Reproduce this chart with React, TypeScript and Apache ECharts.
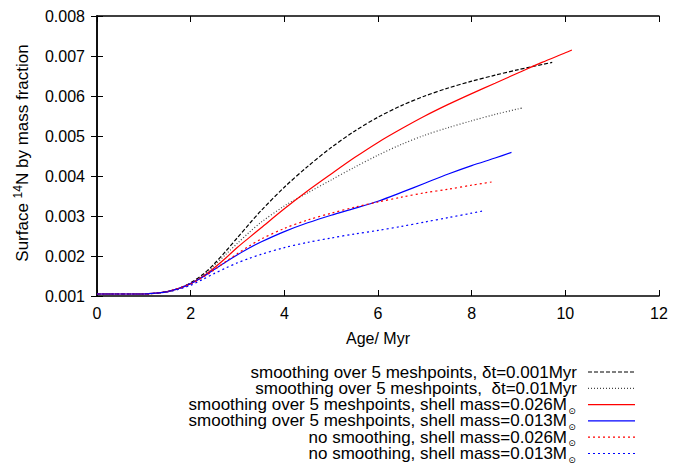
import React, { useEffect, useRef } from "react";
import * as echarts from "echarts";

// Age (Myr) and surface 14N mass fraction for each model
const agesDtFine = [0, 1, 1.25, 1.5, 1.75, 2, 2.25, 2.5, 2.75, 3, 3.25, 3.5, 4, 4.5, 5, 5.5, 6, 6.5, 7, 7.5, 8, 8.5, 9, 9.72];
const valsDtFine = [0.00105, 0.00105, 0.00107, 0.00111, 0.00119, 0.00133, 0.00153, 0.0018, 0.00212, 0.00246, 0.0028, 0.00313, 0.00372, 0.00424, 0.00471, 0.00512, 0.00547, 0.00576, 0.006, 0.0062, 0.00637, 0.00652, 0.00666, 0.00684];

const agesDtCoarse = [0, 1, 1.25, 1.5, 1.75, 2, 2.25, 2.5, 2.75, 3, 3.25, 3.5, 4, 4.5, 5, 5.5, 6, 6.5, 7, 7.5, 8, 8.5, 9, 9.08];
const valsDtCoarse = [0.00105, 0.00105, 0.00107, 0.00111, 0.00119, 0.00132, 0.0015, 0.00176, 0.00204, 0.00232, 0.00259, 0.00284, 0.00325, 0.00358, 0.0039, 0.00422, 0.00452, 0.00479, 0.00502, 0.00521, 0.00538, 0.00554, 0.00568, 0.0057];

const agesSmooth026 = [0, 1, 1.25, 1.5, 1.75, 2, 2.25, 2.5, 2.75, 3, 3.25, 3.5, 4, 4.5, 5, 5.5, 6, 6.5, 7, 7.5, 8, 8.5, 9, 9.5, 10, 10.14];
const valsSmooth026 = [0.00105, 0.00105, 0.00107, 0.00111, 0.00119, 0.00131, 0.00148, 0.0017, 0.00195, 0.00222, 0.00246, 0.0027, 0.00318, 0.00363, 0.00405, 0.00446, 0.00484, 0.00518, 0.0055, 0.00579, 0.00606, 0.00632, 0.00658, 0.00684, 0.00708, 0.00715];

const agesSmooth013 = [0, 1, 1.25, 1.5, 1.75, 2, 2.25, 2.5, 2.75, 3, 3.25, 3.5, 4, 4.5, 5, 5.5, 6, 6.5, 7, 7.5, 8, 8.5, 8.85];
const valsSmooth013 = [0.00105, 0.00105, 0.00107, 0.00111, 0.00119, 0.00131, 0.00147, 0.00166, 0.00185, 0.00203, 0.0022, 0.00235, 0.00261, 0.00283, 0.00302, 0.00319, 0.00337, 0.00359, 0.00382, 0.00405, 0.00426, 0.00445, 0.00459];

const agesNoSmooth026 = [0, 1, 1.25, 1.5, 1.75, 2, 2.25, 2.5, 2.75, 3, 3.25, 3.5, 4, 4.5, 5, 5.5, 6, 6.5, 7, 7.5, 8, 8.48];
const valsNoSmooth026 = [0.00105, 0.00105, 0.00107, 0.00111, 0.00119, 0.0013, 0.00146, 0.00165, 0.00186, 0.00206, 0.00225, 0.00242, 0.00269, 0.0029, 0.00307, 0.00322, 0.00335, 0.00347, 0.00358, 0.00367, 0.00377, 0.00386];

const agesNoSmooth013 = [0, 1, 1.25, 1.5, 1.75, 2, 2.25, 2.5, 2.75, 3, 3.25, 3.5, 4, 4.5, 5, 5.5, 6, 6.5, 7, 7.5, 8, 8.25];
const valsNoSmooth013 = [0.00105, 0.00105, 0.00107, 0.0011, 0.00117, 0.00127, 0.00141, 0.00156, 0.0017, 0.00183, 0.00194, 0.00204, 0.00221, 0.00234, 0.00245, 0.00255, 0.00264, 0.00274, 0.00285, 0.00296, 0.00307, 0.00313];

const legendLabels = [
  "smoothing over 5 meshpoints, \u03b4t=0.001Myr",
  "smoothing over 5 meshpoints,  \u03b4t=0.01Myr",
  "smoothing over 5 meshpoints, shell mass=0.026M",
  "smoothing over 5 meshpoints, shell mass=0.013M",
  "no smoothing, shell mass=0.026M",
  "no smoothing, shell mass=0.013M",
];
const legendSun = [false, false, true, true, true, true];

const FONT = "Liberation Sans, Arial, Helvetica, sans-serif";

const seriesDefs = [
  { ages: agesDtFine, vals: valsDtFine, color: "#000000", type: [4, 2] as any },
  { ages: agesDtCoarse, vals: valsDtCoarse, color: "#444444", type: [1, 2] as any },
  { ages: agesSmooth026, vals: valsSmooth026, color: "#ff0000", type: "solid" as any },
  { ages: agesSmooth013, vals: valsSmooth013, color: "#0000ff", type: "solid" as any },
  { ages: agesNoSmooth026, vals: valsNoSmooth026, color: "#ff0000", type: [2, 3] as any },
  { ages: agesNoSmooth013, vals: valsNoSmooth013, color: "#0000ff", type: [2, 3] as any },
];

export default function App() {
  const ref = useRef<HTMLDivElement>(null);
  useEffect(() => {
    if (!ref.current) return;
    const chart = echarts.init(ref.current, null, { renderer: "svg" });
    const axisLine = { show: true, lineStyle: { color: "#000", width: 1.5 } };
    const tick = { show: true, inside: true, length: 6, lineStyle: { color: "#000", width: 1 } };
    const legendGraphics: any[] = [];
    const rowY0 = 372;
    const rowH = 16.3;
    legendLabels.forEach((lab, i) => {
      const y = rowY0 + i * rowH;
      const sun = legendSun[i];
      legendGraphics.push({
        type: "text",
        x: sun ? 567 : 577,
        y,
        style: {
          text: lab,
          align: "right",
          verticalAlign: "middle",
          font: `17px ${FONT}`,
          lineHeight: 15,
          fill: "#000",
        },
      });
      if (sun) {
        legendGraphics.push({
          type: "text",
          x: 572,
          y: y + 6,
          style: {
            text: "\u2299",
            align: "center",
            verticalAlign: "middle",
            font: `9px DejaVu Sans`,
            lineHeight: 8,
            fill: "#000",
          },
        });
      }
      const d = seriesDefs[i];
      legendGraphics.push({
        type: "line",
        shape: { x1: 588, y1: y, x2: 635, y2: y },
        style: { stroke: d.color, lineWidth: 1.2, lineDash: d.type === "solid" ? null : d.type },
      });
    });
    legendGraphics.push({
      type: "text",
      x: 22,
      y: 153,
      rotation: Math.PI / 2,
      style: {
        text: "Surface {sup|14}N by mass fraction",
        align: "center",
        verticalAlign: "middle",
        font: `17px ${FONT}`,
        fill: "#000",
        rich: {
          sup: { fontSize: 12, fontFamily: FONT, padding: [0, 0, 9, 0] },
        },
      },
    });

    chart.setOption({
      animation: false,
      backgroundColor: "#fff",
      grid: { left: 97, right: 27, top: 16, bottom: 168 },
      xAxis: [
        {
          type: "value",
          min: 0,
          max: 12,
          interval: 2,
          position: "bottom",
          name: "Age/ Myr",
          nameLocation: "middle",
          nameGap: 34,
          nameTextStyle: { fontSize: 16, fontFamily: FONT, color: "#000" },
          axisLine,
          axisTick: tick,
          splitLine: { show: false },
          axisLabel: { fontSize: 16, fontFamily: FONT, color: "#000", margin: 9 },
        },
        {
          type: "value",
          min: 0,
          max: 12,
          interval: 2,
          position: "top",
          axisLine,
          axisTick: tick,
          splitLine: { show: false },
          axisLabel: { show: false },
        },
      ],
      yAxis: [
        {
          type: "value",
          min: 0.001,
          max: 0.008,
          interval: 0.001,
          position: "left",
          axisLine,
          axisTick: tick,
          splitLine: { show: false },
          axisLabel: {
            fontSize: 16,
            fontFamily: FONT,
            color: "#000",
            margin: 12,
            formatter: (v: number) => v.toFixed(3),
          },
        },
        {
          type: "value",
          min: 0.001,
          max: 0.008,
          interval: 0.001,
          position: "right",
          axisLine,
          axisTick: tick,
          splitLine: { show: false },
          axisLabel: { show: false },
        },
      ],
      series: seriesDefs.map((d) => ({
        type: "line",
        xAxisIndex: 0,
        yAxisIndex: 0,
        data: d.ages.map((a, j) => [a, d.vals[j]]),
        showSymbol: false,
        smooth: 0.3,
        lineStyle: { color: d.color, width: 1.2, type: d.type },
      })),
      graphic: legendGraphics,
    });
    return () => chart.dispose();
  }, []);
  return (
    <div
      ref={ref}
      style={{ position: "fixed", left: 0, top: 0, width: 686, height: 464 }}
    />
  );
}
